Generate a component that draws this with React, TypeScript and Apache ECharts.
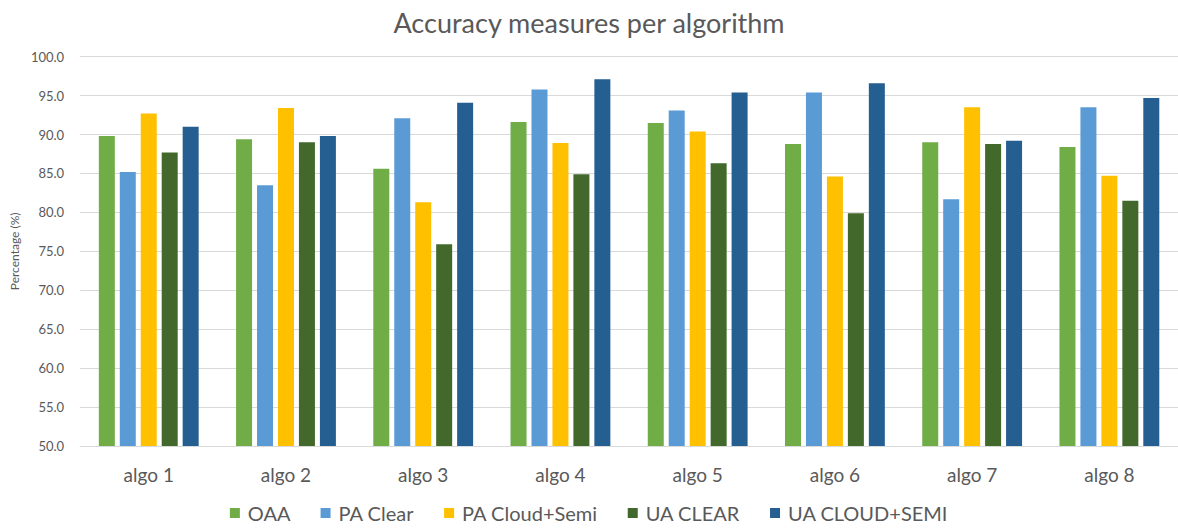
import React, { useEffect, useRef } from "react";
import * as echarts from "echarts";

const categories = ["algo 1", "algo 2", "algo 3", "algo 4", "algo 5", "algo 6", "algo 7", "algo 8"];
const seriesNames = ["OAA", "PA Clear", "PA Cloud+Semi", "UA CLEAR", "UA CLOUD+SEMI"];
const oaa = [89.8, 89.4, 85.6, 91.6, 91.5, 88.8, 89.0, 88.4];
const paClear = [85.2, 83.5, 92.1, 95.8, 93.1, 95.4, 81.7, 93.5];
const paCloudSemi = [92.7, 93.4, 81.3, 88.9, 90.4, 84.6, 93.5, 84.7];
const uaClear = [87.7, 89.0, 75.9, 84.9, 86.3, 79.9, 88.8, 81.5];
const uaCloudSemi = [91.0, 89.8, 94.1, 97.1, 95.4, 96.6, 89.2, 94.7];
const colors = ["#70AD47", "#5B9BD5", "#FFC000", "#43682B", "#255E91"];

const FONT = "Lato, 'Open Sans', sans-serif";
const TEXT = "#595959";

export default function App() {
  const ref = useRef<HTMLDivElement>(null);

  useEffect(() => {
    document.body.style.margin = "0";
    if (!ref.current) return;
    const chart = echarts.init(ref.current, undefined, { renderer: "svg" });
    const values = [oaa, paClear, paCloudSemi, uaClear, uaCloudSemi];
    chart.setOption({
      animation: false,
      backgroundColor: "#ffffff",
      title: {
        text: "Accuracy measures per algorithm",
        left: "center",
        top: 4,
        textStyle: { fontFamily: FONT, fontSize: 27, fontWeight: "normal", color: TEXT },
      },
      legend: {
        bottom: 2,
        left: "center",
        itemWidth: 10,
        itemHeight: 10,
        itemGap: 30,
        icon: "rect",
        textStyle: { fontFamily: FONT, fontSize: 20, color: TEXT, padding: [0, 0, 0, 3] },
        data: seriesNames,
      },
      grid: { left: 79.5, top: 56.7, width: 1103, height: 389.3, containLabel: false },
      xAxis: {
        type: "category",
        data: categories,
        axisTick: { show: false },
        axisLine: { lineStyle: { color: "#d9d9d9", width: 1 } },
        axisLabel: { fontFamily: FONT, fontSize: 19, color: TEXT, margin: 19 },
      },
      yAxis: {
        type: "value",
        min: 50,
        max: 100,
        interval: 5,
        name: "Percentage (%)",
        nameLocation: "middle",
        nameGap: 58,
        nameTextStyle: { fontFamily: FONT, fontSize: 12, color: TEXT },
        axisLine: { show: false },
        axisTick: { show: false },
        splitLine: { lineStyle: { color: "#d9d9d9", width: 1 } },
        axisLabel: {
          fontFamily: FONT,
          fontSize: 13,
          color: TEXT,
          margin: 16,
          formatter: (v: number) => v.toFixed(1),
        },
      },
      series: seriesNames.map((name, i) => ({
        name,
        type: "bar",
        data: values[i],
        barWidth: 16,
        barGap: "31%",
        itemStyle: { color: colors[i] },
      })),
    });
    return () => chart.dispose();
  }, []);

  return <div ref={ref} style={{ width: 1178, height: 530 }} />;
}
